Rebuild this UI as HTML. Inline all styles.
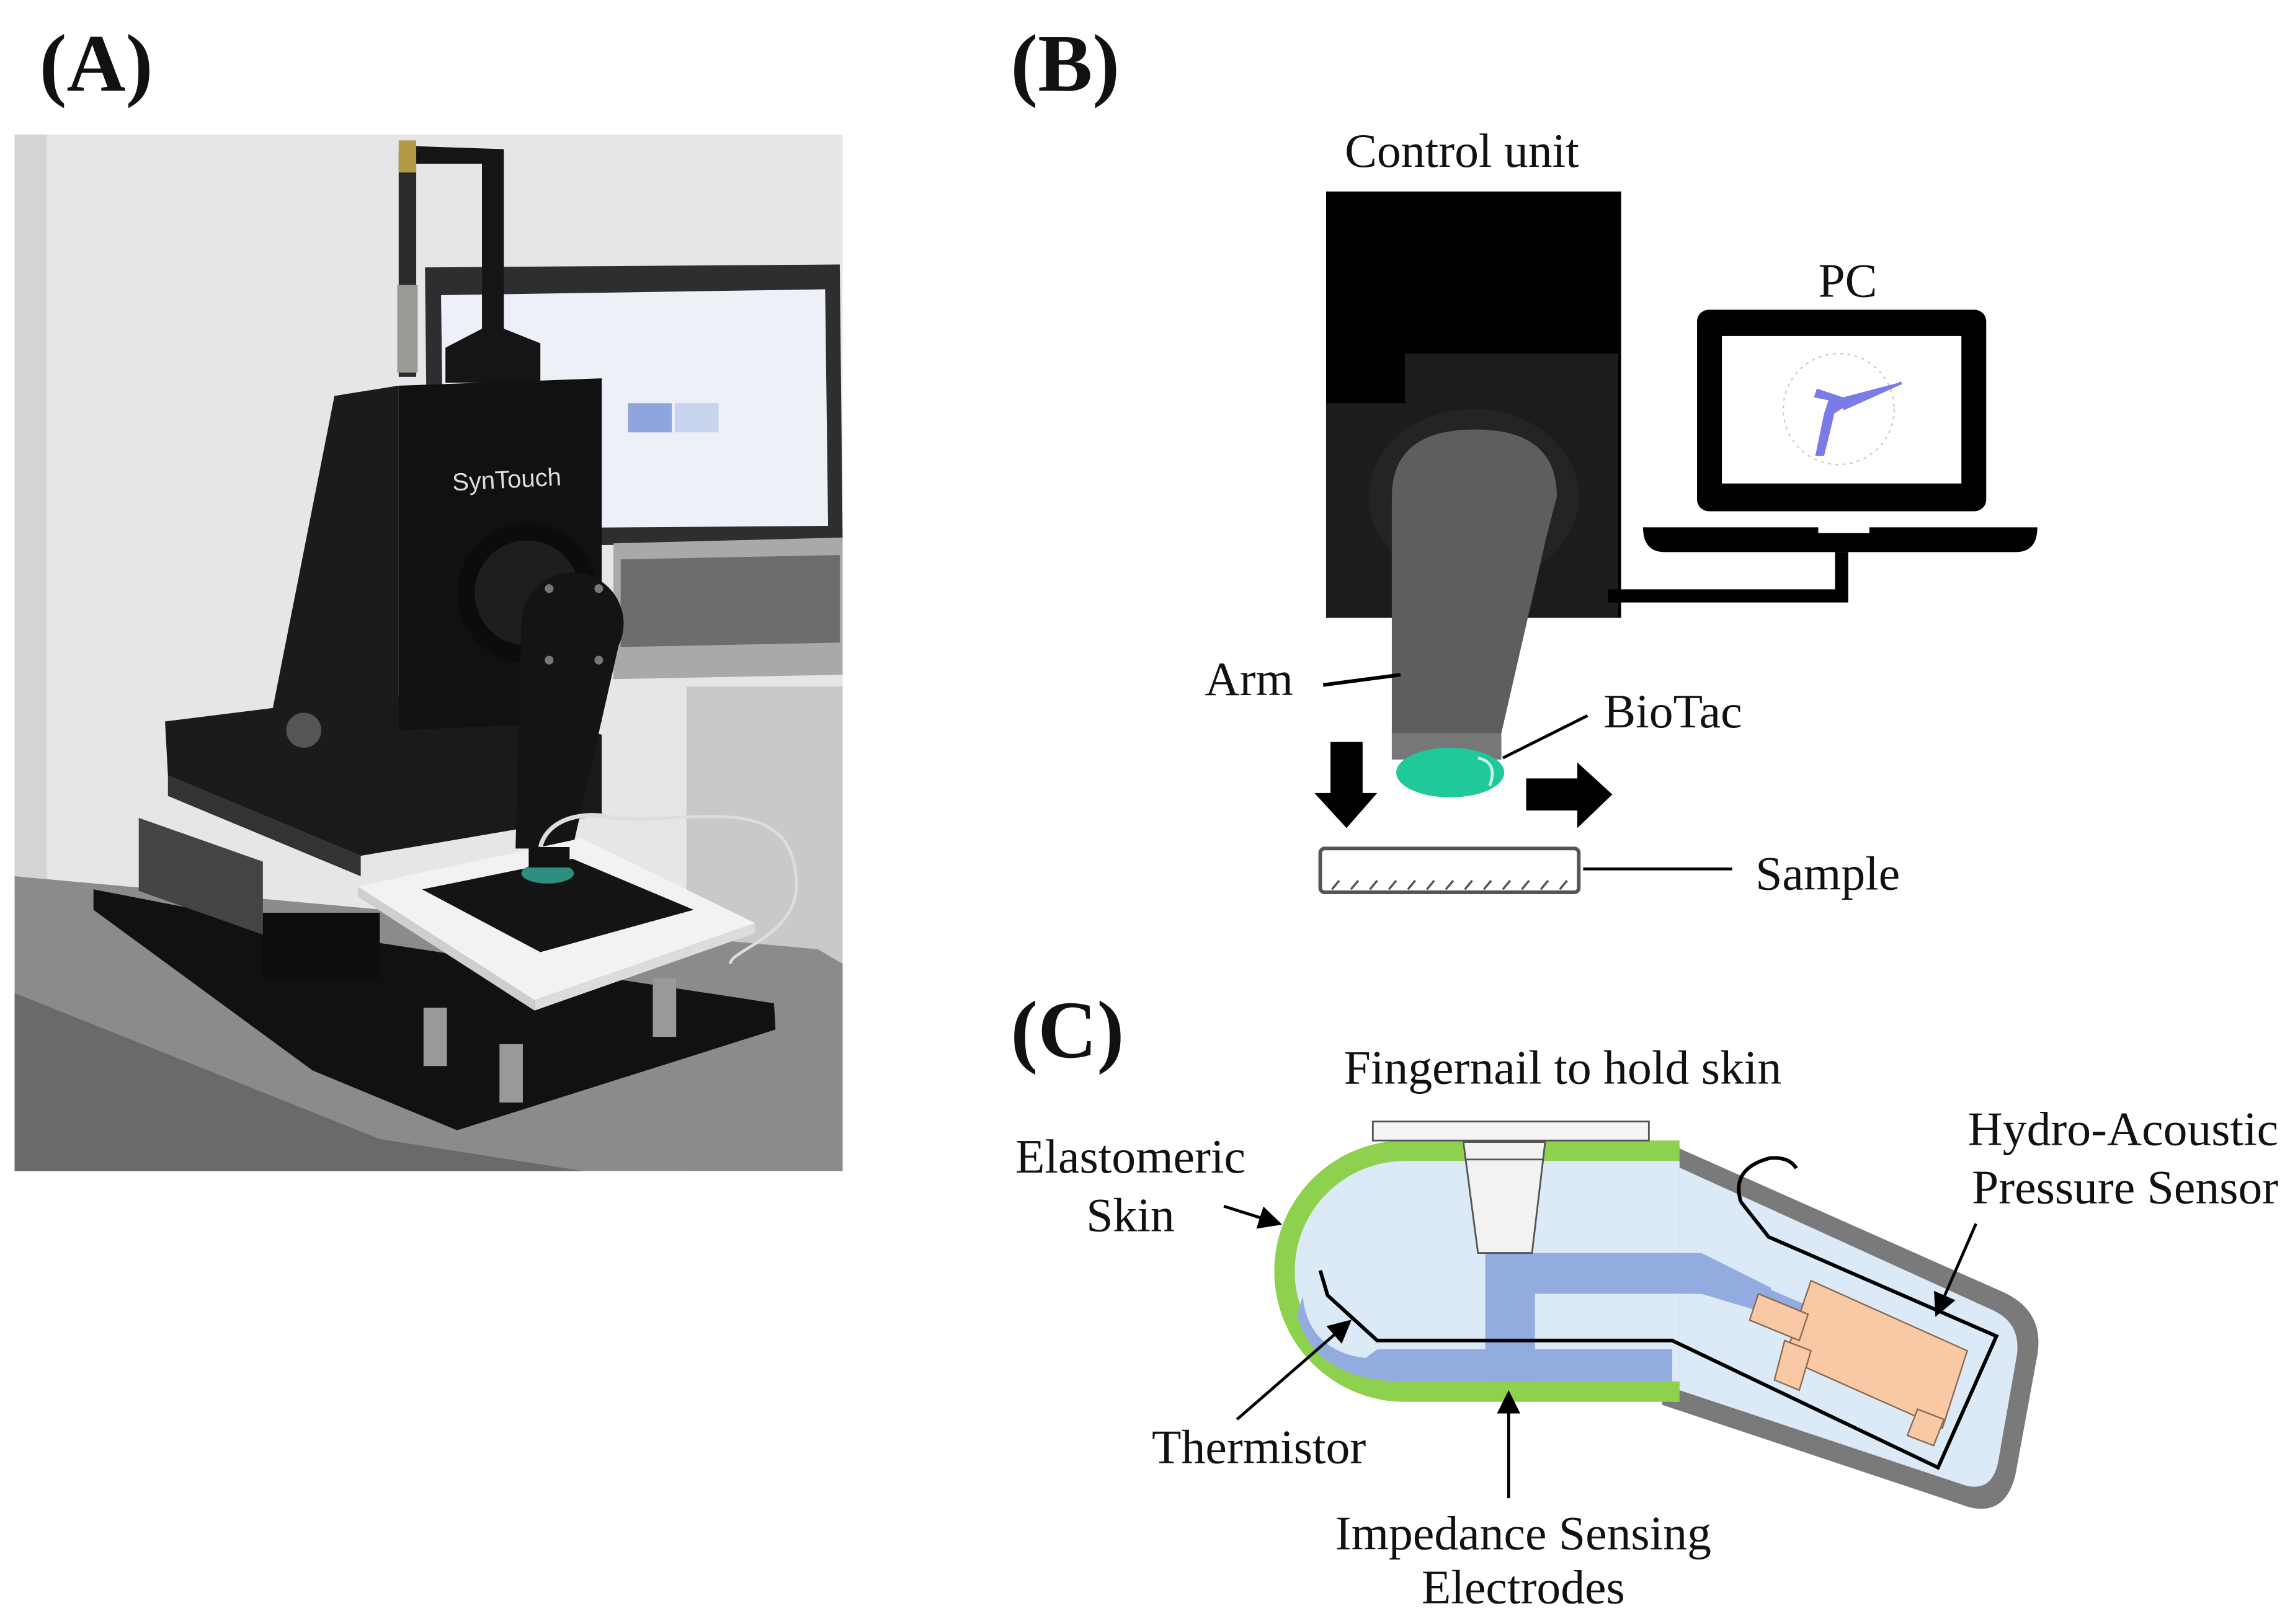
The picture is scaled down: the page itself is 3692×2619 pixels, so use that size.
<!DOCTYPE html>
<html><head><meta charset="utf-8"><style>
html,body{margin:0;padding:0;background:#fff}
svg{display:block}
text{font-family:"Liberation Serif",serif;fill:#111}
</style></head><body>
<svg width="3692" height="2619" viewBox="0 0 1568 1112" xmlns="http://www.w3.org/2000/svg">
<rect width="1568" height="1112" fill="#fff"/>
<!-- headers -->
<text x="27" y="62" font-size="56" font-weight="bold">(A)</text>
<text x="692" y="62" font-size="56" font-weight="bold">(B)</text>
<text x="692" y="724" font-size="56" font-weight="bold">(C)</text>

<!-- PANEL A photo -->
<clipPath id="ph"><rect x="10" y="92" width="567" height="710"/></clipPath>
<g clip-path="url(#ph)">
<rect x="10" y="92" width="567" height="710" fill="#e6e6e8"/>
<rect x="10" y="92" width="22" height="520" fill="#d4d4d6"/>
<polygon points="470,470 577,470 577,802 470,802" fill="#c9c9cb"/>
<polygon points="291,183 575,181 577,372 293,374" fill="#2e2e30"/>
<polygon points="302,202 565,198 567,360 304,362" fill="#eef0f8"/>
<rect x="430" y="276" width="30" height="20" fill="#8fa6dc"/>
<rect x="462" y="276" width="30" height="20" fill="#c8d4ee"/>
<polygon points="420,372 577,368 577,462 420,465" fill="#a9a9ab"/>
<polygon points="425,383 575,380 575,440 425,443" fill="#6d6d70"/>
<polygon points="10,600 560,650 577,660 577,802 10,802" fill="#8b8b8b"/>
<polygon points="10,680 260,780 400,802 10,802" fill="#6a6a6a"/>
<polygon points="64,609 229,641 530,687 531,705 313,774 214,733 64,623" fill="#111"/>
<polygon points="113,494 265,475 412,503 412,558 247,586 115,531" fill="#1a1a1a"/>
<polygon points="115,531 247,586 247,600 115,545" fill="#333"/>
<polygon points="95,560 180,590 180,640 95,610" fill="#444"/>
<rect x="180" y="625" width="80" height="45" fill="#0d0d0d"/>
<rect x="290" y="690" width="16" height="40" fill="#999"/>
<rect x="342" y="715" width="16" height="40" fill="#999"/>
<rect x="447" y="670" width="16" height="40" fill="#999"/>
<polygon points="229,271 273,264 273,480 188,544 185,494" fill="#1b1b1b"/>
<polygon points="273,264 412,259 412,494 273,500" fill="#111"/>
<circle cx="208" cy="500" r="12" fill="#555"/>
<text x="310" y="336" font-size="17" style="fill:#ddd;font-family:'Liberation Sans',sans-serif" transform="rotate(-3 310 336)">SynTouch</text>
<rect x="273" y="103" width="12" height="155" fill="#2a2a2a"/>
<rect x="272" y="195" width="14" height="60" fill="#9a9a96"/>
<rect x="273" y="96" width="12" height="22" fill="#b59a44"/>
<polygon points="285,100 345,102 345,225 370,235 370,262 305,262 305,238 330,225 330,112 285,112" fill="#151515"/>
<circle cx="361" cy="406" r="48" fill="#0c0c0c"/>
<circle cx="361" cy="406" r="36" fill="#1e1e1e"/>
<path d="M357,427 A35,35 0 0 1 427,427 L392,581 L353,581 Z" fill="#141414"/>
<circle cx="392" cy="427" r="35" fill="#141414"/>
<circle cx="376" cy="403" r="3" fill="#777"/><circle cx="410" cy="403" r="3" fill="#777"/>
<circle cx="376" cy="452" r="3" fill="#777"/><circle cx="410" cy="452" r="3" fill="#777"/>
<path d="M370,580 C375,560 400,555 420,560" stroke="#ddd" stroke-width="3" fill="none"/>
<path d="M420,560 C470,565 540,540 545,600 C550,640 500,650 500,660" stroke="#ddd" stroke-width="2" fill="none"/>
<polygon points="245,607 398,574 517,632 366,685" fill="#f2f2f2"/>
<polygon points="245,607 366,685 366,692 245,614" fill="#cfcfcf"/>
<polygon points="366,685 517,632 517,639 366,692" fill="#dcdcdc"/>
<polygon points="289,609 392,588 475,623 370,652" fill="#141414"/>
<ellipse cx="375" cy="598" rx="18" ry="7" fill="#2e8f7e"/>
<rect x="362" y="580" width="28" height="14" fill="#111"/>
</g>

<!-- PANEL B -->
<text x="1001" y="114" font-size="33" text-anchor="middle">Control unit</text>
<rect x="908" y="131" width="202" height="292" fill="#000"/>
<path d="M962,242 H1108 V423 H908 V276 H962 Z" fill="#1c1c1c"/>
<ellipse cx="1009" cy="340" rx="72" ry="60" fill="#242424"/>
<path d="M953,520 L953,340 Q953,294 1010,294 Q1066,294 1066,340 L1059,367 L1028,502 L1028,520 Z" fill="#5e5e5e"/>
<rect x="953" y="502" width="75" height="18" fill="#777"/>
<ellipse cx="993" cy="529" rx="37" ry="17" fill="#1fc99a"/>
<path d="M1012,519 Q1026,522 1020,538" stroke="#c8f5e6" stroke-width="2" fill="none"/>
<line x1="1029" y1="519" x2="1087" y2="490" stroke="#000" stroke-width="2"/>
<text x="1098" y="498" font-size="33">BioTac</text>
<text x="825" y="476" font-size="33">Arm</text>
<line x1="906" y1="469" x2="959" y2="462" stroke="#000" stroke-width="2.5"/>
<polygon points="911,508 933,508 933,543 943,543 922,567 900,543 911,543" fill="#000"/>
<polygon points="1045,533 1080,533 1080,522 1104,544 1080,567 1080,555 1045,555" fill="#000"/>
<rect x="904" y="581" width="177" height="30" rx="3" fill="#fff" stroke="#555" stroke-width="2.5"/>
<g stroke="#555" stroke-width="1.5">
<line x1="912" y1="609" x2="917" y2="603"/><line x1="925" y1="609" x2="930" y2="603"/><line x1="938" y1="609" x2="943" y2="603"/><line x1="951" y1="609" x2="956" y2="603"/><line x1="964" y1="609" x2="969" y2="603"/><line x1="977" y1="609" x2="982" y2="603"/><line x1="990" y1="609" x2="995" y2="603"/><line x1="1003" y1="609" x2="1008" y2="603"/><line x1="1016" y1="609" x2="1021" y2="603"/><line x1="1029" y1="609" x2="1034" y2="603"/><line x1="1042" y1="609" x2="1047" y2="603"/><line x1="1055" y1="609" x2="1060" y2="603"/><line x1="1068" y1="609" x2="1073" y2="603"/>
</g>
<line x1="1084" y1="595" x2="1186" y2="595" stroke="#000" stroke-width="2"/>
<text x="1202" y="609" font-size="33">Sample</text>
<text x="1245" y="203" font-size="33">PC</text>
<rect x="1162" y="212" width="198" height="138" rx="8" fill="#000"/>
<rect x="1179" y="230" width="164" height="101" fill="#fff"/>
<circle cx="1259" cy="280" r="38" fill="none" stroke="#ccc" stroke-width="1" stroke-dasharray="2 3"/>
<polygon points="1244,266 1262,272 1300,262 1264,278 1256,283 1252,300 1249,312 1243,312 1249,283 1252,274 1242,272" fill="#7b7be8"/>
<line x1="1262" y1="280" x2="1302" y2="262" stroke="#7b7be8" stroke-width="2"/>
<path d="M1125,361 H1395 Q1395,378 1380,378 H1140 Q1125,378 1125,361 Z" fill="#000"/>
<rect x="1245" y="360" width="35" height="5" fill="#fff"/>
<polyline points="1261,378 1261,408 1101,408" fill="none" stroke="#000" stroke-width="9"/>

<!-- PANEL C -->
<text x="1070" y="742" font-size="33" text-anchor="middle">Fingernail to hold skin</text>
<text x="774" y="803" font-size="33" text-anchor="middle">Elastomeric</text>
<text x="774" y="843" font-size="33" text-anchor="middle">Skin</text>
<text x="1560" y="784" font-size="33" text-anchor="end">Hydro-Acoustic</text>
<text x="1560" y="824" font-size="33" text-anchor="end">Pressure Sensor</text>
<text x="862" y="1002" font-size="33" text-anchor="middle">Thermistor</text>
<text x="1043" y="1061" font-size="33" text-anchor="middle">Impedance Sensing</text>
<text x="1043" y="1098" font-size="33" text-anchor="middle">Electrodes</text>
<path d="M1140,782 L1372,885 Q1400,898 1395,928 L1380,1010 Q1372,1042 1342,1030 L1138,962 Z" fill="#7a7a7a"/>
<path d="M1140,795 L1364,897 Q1384,906 1381,928 L1368,1002 Q1363,1024 1342,1016 L1138,948 Z" fill="#dce9f7"/>
<path d="M1150,781 H962 A89.5,89.5 0 0 0 962,960 H1150 Z" fill="#8dd14f"/>
<path d="M1150,795 H962 A75.5,75.5 0 0 0 962,946 H1150 Z" fill="#dce9f7"/>
<path d="M1017,858 H1165 L1213,882 L1205,898 L1165,886 H1051 V946 H1017 Z" fill="#93acdf"/>
<path d="M1205,880 L1240,895 L1232,912 L1200,898 Z" fill="#93acdf"/>
<path d="M892,888 Q896,925 935,930 L943,924 H1145 V946 H962 Q900,946 888,900 Z" fill="#93acdf"/>
<rect x="940" y="768" width="189" height="13" fill="#f5f5f5" stroke="#555" stroke-width="1.2"/>
<polygon points="1002,782 1058,782 1049,858 1012,858" fill="#f2f2f2" stroke="#555" stroke-width="1.2"/>
<line x1="1003" y1="794" x2="1057" y2="794" stroke="#555" stroke-width="1.2"/>
<polygon points="1240,877 1347,925 1330,978 1222,930" fill="#f8c9a4" stroke="#8a6a50" stroke-width="1"/>
<polygon points="1204,886 1238,900 1232,918 1198,904" fill="#f8c9a4" stroke="#8a6a50" stroke-width="1"/>
<polygon points="1222,918 1240,925 1232,952 1215,945" fill="#f8c9a4" stroke="#8a6a50" stroke-width="1"/>
<polygon points="1313,965 1331,972 1324,990 1306,983" fill="#f8c9a4" stroke="#8a6a50" stroke-width="1"/>
<polyline points="904,870 909,887 943,918 1145,918 1327,1005 1367,915 1211,847 1192,823" fill="none" stroke="#000" stroke-width="2.5"/>
<path d="M1192,823 Q1185,800 1212,793 Q1225,792 1230,800" fill="none" stroke="#000" stroke-width="2.5"/>
<defs><marker id="ah" markerWidth="8" markerHeight="8" refX="7" refY="4" orient="auto"><path d="M0,0 L8,4 L0,8 Z" fill="#000"/></marker></defs>
<line x1="838" y1="826" x2="876" y2="838" stroke="#000" stroke-width="2" marker-end="url(#ah)"/>
<line x1="847" y1="972" x2="924" y2="905" stroke="#000" stroke-width="2" marker-end="url(#ah)"/>
<line x1="1033" y1="1026" x2="1033" y2="954" stroke="#000" stroke-width="2" marker-end="url(#ah)"/>
<line x1="1353" y1="838" x2="1326" y2="900" stroke="#000" stroke-width="2" marker-end="url(#ah)"/>
</svg>
</body></html>
